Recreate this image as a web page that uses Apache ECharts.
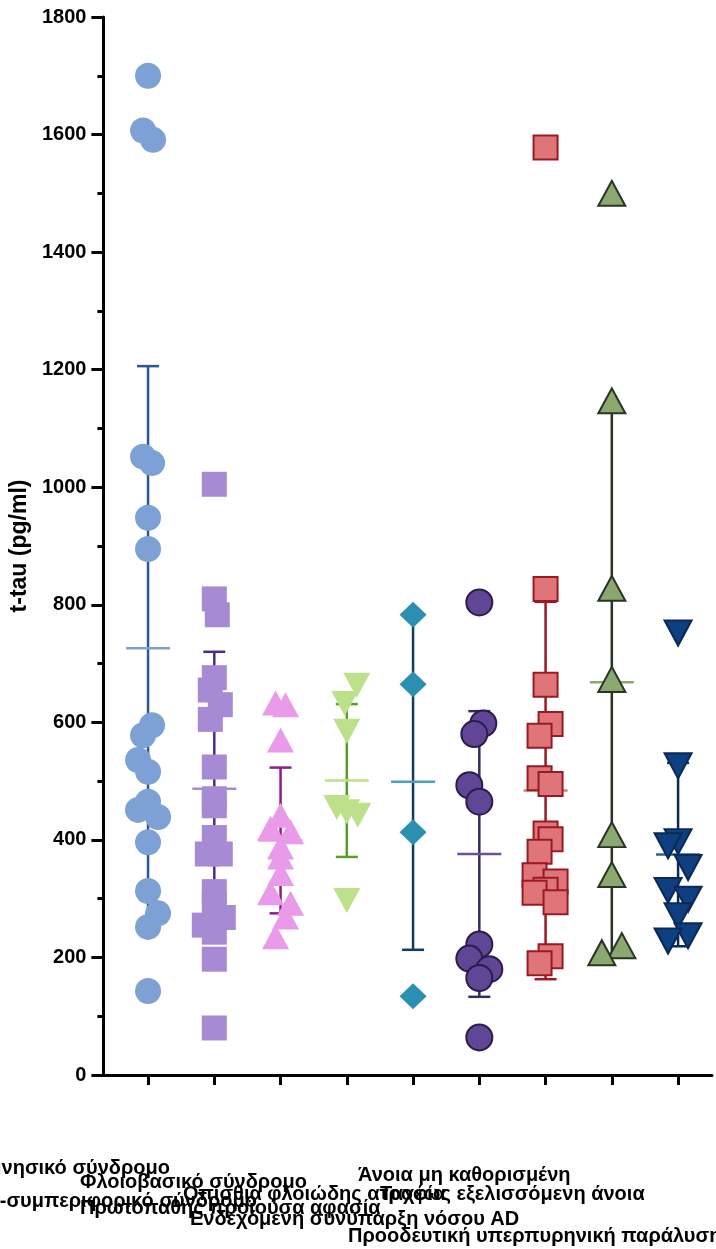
<!DOCTYPE html>
<html><head><meta charset="utf-8">
<script src="https://cdn.jsdelivr.net/npm/echarts@6/dist/echarts.min.js"></script>
<style>html,body{margin:0;padding:0;background:#fff}#c{width:716px;height:1249px}</style>
</head><body><div id="c"></div>
<script>
// ---------- DATA ----------
const categories = [
  'Αμνησικό σύνδρομο',
  'Φλοιοβασικό σύνδρομο',
  'Δυσεκτελεστικό-συμπεριφορικό σύνδρομο',
  'Οπίσθια φλοιώδης ατροφία',
  'Πρωτοπαθής προϊούσα αφασία',
  'Ενδεχόμενη συνύπαρξη νόσου AD',
  'Άνοια μη καθορισμένη',
  'Ταχέως εξελισσόμενη άνοια',
  'Προοδευτική υπερπυρηνική παράλυση'
];
const yTicks = [0, 200, 400, 600, 800, 1000, 1200, 1400, 1600, 1800];
const yTitle = 't-tau (pg/ml)';

const g1 = [1700, 1607, 1591, 1052, 1041, 948, 895, 595, 578, 536, 516, 465, 451, 439, 396, 313, 275, 252, 143];
const g2 = [1005, 810, 783, 676, 655, 630, 605, 524, 470, 458, 404, 376, 376, 312, 290, 268, 255, 243, 197, 80];
const g3 = [633, 630, 570, 442, 420, 414, 388, 371, 343, 310, 292, 269, 235];
const g4 = [663, 632, 585, 455, 448, 442, 297];
const g5 = [783, 665, 413, 134];
const g6 = [804, 598, 580, 493, 465, 222, 198, 180, 165, 64];
const g7 = [1578, 827, 664, 597, 577, 505, 495, 411, 401, 380, 340, 329, 315, 310, 294, 202, 190];
const g8 = [1500, 1147, 828, 673, 409, 341, 220, 208];
const g9 = [752, 526, 397, 390, 353, 314, 299, 271, 237, 228];
const groups = [g1, g2, g3, g4, g5, g6, g7, g8, g9];

const means = [726, 487, 399, 501, 499, 376, 484, 668, 375];
const sds   = [480, 233, 124, 130, 286, 243, 321, 467, 156];

// ---------- LAYOUT / STYLE ----------
// horizontal jitter of each point, in pixels
const jitter = [
  [0, -5, 5, -5, 4, 0, 0, 4, -5, -10, 0, 0, -10, 10, 0, 0, 10, 0, 0],
  [0, 0, 3, 0, -4, 6, -4, 0, 0, 0, 0, -7, 6, 0, 0, 9, -10, 0, 0, 0],
  [-5, 5, 0, 0, -10, 10, 0, 0, 0, -10, 10, 5, -5],
  [10, -2, 0, -10, 0, 11, 0],
  [0, 0, 0, 0],
  [0, 4, -5, -10, 0, 0, -10, 10, 0, 0],
  [0, 0, 0, 5, -6, -6, 5, 0, 5, -6, -11, 10, 0, -11, 10, 5, -6],
  [0, 0, 0, 0, 0, 0, 10, -10],
  [0, 0, 0, -10, 10, -10, 10, 0, 10, -10]
];
const styles = [
  {symbol: 'circle', size: 26, rot: 0, fill: '#7DA1D5', border: null, err: '#2B5797', mean: '#7DA1D5'},
  {symbol: 'rect', size: 25, rot: 0, fill: '#A68BD4', border: null, err: '#4A2C8C', mean: '#A68BD4'},
  {symbol: 'triangle', size: [27, 25], rot: 0, fill: '#E99AE9', border: null, err: '#8E1A8E', mean: '#E99AE9'},
  {symbol: 'triangle', size: [27, 25], rot: 180, fill: '#BDE08A', border: null, err: '#5B9B2B', mean: '#BDE08A'},
  {symbol: 'diamond', size: [27, 26], rot: 0, fill: '#2B8FB1', border: null, err: '#0F3E5E', mean: '#4AA0C2'},
  {symbol: 'circle', size: 26, rot: 0, fill: '#614695', border: '#2C1B4E', err: '#3A2A5C', mean: '#6B4FA0'},
  {symbol: 'rect', size: 24, rot: 0, fill: '#E07579', border: '#9A1A24', err: '#9A1A24', mean: '#E07579'},
  {symbol: 'triangle', size: [27, 25], rot: 0, fill: '#8AA970', border: '#2A3425', err: '#2A3425', mean: '#8AA970'},
  {symbol: 'triangle', size: [27, 25], rot: 180, fill: '#0E3F80', border: '#0A2A55', err: '#0A2A55', mean: '#2E5F9E'}
];
// category label placement: [x, y(center), align]
const labelLayout = [
  [170, 1168, 'right'],
  [80, 1182, 'left'],
  [257, 1201, 'right'],
  [183, 1194, 'left'],
  [80, 1208, 'left'],
  [190, 1219, 'left'],
  [358, 1175, 'left'],
  [380, 1194, 'left'],
  [348, 1236, 'left']
];
const FONT = '"Liberation Sans", Arial, sans-serif';

const chart = echarts.init(document.getElementById('c'), null, {renderer: 'canvas'});

const series = [];
series.push({
  type: 'custom',
  z: 1,
  data: means.map((m, i) => [i + 1, m, sds[i]]),
  renderItem: function (params, api) {
    const x = api.value(0), m = api.value(1), s = api.value(2);
    const st = styles[params.dataIndex];
    const c = api.coord([x, m]);
    const top = api.coord([x, m + s]);
    const bot = api.coord([x, Math.max(0, m - s)]);
    const lw = 2.5;
    return {
      type: 'group',
      children: [
        {type: 'line', shape: {x1: c[0], y1: top[1], x2: c[0], y2: bot[1]}, style: {stroke: st.err, lineWidth: lw}},
        {type: 'line', shape: {x1: c[0] - 11, y1: top[1], x2: c[0] + 11, y2: top[1]}, style: {stroke: st.err, lineWidth: lw}},
        {type: 'line', shape: {x1: c[0] - 11, y1: bot[1], x2: c[0] + 11, y2: bot[1]}, style: {stroke: st.err, lineWidth: lw}},
        {type: 'line', shape: {x1: c[0] - 22, y1: c[1], x2: c[0] + 22, y2: c[1]}, style: {stroke: st.mean, lineWidth: lw}}
      ]
    };
  }
});
groups.forEach((vals, gi) => {
  const st = styles[gi];
  series.push({
    type: 'scatter',
    z: 2,
    symbol: st.symbol,
    symbolSize: st.size,
    symbolRotate: st.rot,
    itemStyle: {
      color: st.fill,
      borderColor: st.border || st.fill,
      borderWidth: st.border ? 2 : 0,
      opacity: 1
    },
    emphasis: {disabled: true},
    data: vals.map((v, k) => ({value: [gi + 1, v], symbolOffset: [jitter[gi][k] || 0, 0]}))
  });
});

const option = {
  animation: false,
  backgroundColor: '#ffffff',
  grid: {left: 103, right: 4, top: 17, bottom: 174, containLabel: false},
  xAxis: {
    type: 'value',
    min: 0.326,
    max: 9.512,
    axisLine: {show: true, onZero: false, lineStyle: {color: '#000', width: 3}},
    axisTick: {show: true, customValues: [1, 2, 3, 4, 5, 6, 7, 8, 9], length: 10, lineStyle: {color: '#000', width: 3}},
    axisLabel: {show: false},
    splitLine: {show: false}
  },
  yAxis: {
    type: 'value',
    min: 0,
    max: 1800,
    interval: 200,
    name: yTitle,
    nameLocation: 'middle',
    nameGap: 69,
    nameTextStyle: {fontFamily: FONT, fontWeight: 'bold', fontSize: 23, color: '#000'},
    axisLine: {show: true, lineStyle: {color: '#000', width: 3}},
    axisTick: {show: true, length: 12, lineStyle: {color: '#000', width: 3}},
    minorTick: {show: true, splitNumber: 2, length: 6, lineStyle: {color: '#000', width: 3}},
    axisLabel: {
      margin: 17,
      fontFamily: FONT, fontWeight: 'bold', fontSize: 20, color: '#000',
      formatter: v => (yTicks.indexOf(v) >= 0 ? String(v) : '')
    },
    splitLine: {show: false},
    minorSplitLine: {show: false}
  },
  graphic: categories.map((name, i) => ({
    type: 'text',
    x: labelLayout[i][0],
    y: labelLayout[i][1],
    silent: true,
    style: {
      text: name,
      fontFamily: FONT,
      fontWeight: 'bold',
      fontSize: 20,
      fill: '#000',
      align: labelLayout[i][2],
      verticalAlign: 'middle'
    }
  })),
  series: series
};
chart.setOption(option);
</script>
</body></html>
